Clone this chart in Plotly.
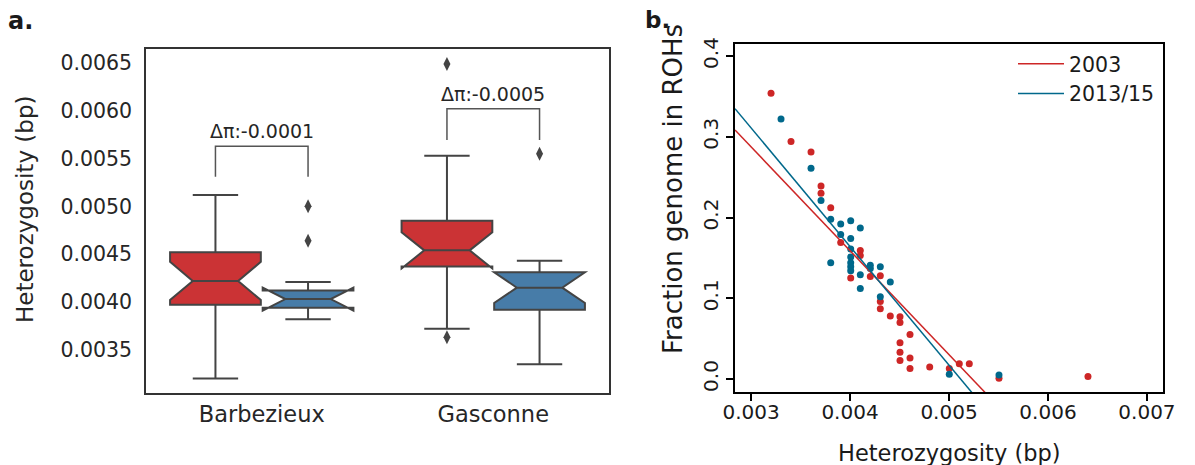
import plotly.graph_objects as go

# the page body adds an 8px margin, so the figure is drawn 8px smaller and shifted
OFF = 8
W, H = 1195 - OFF, 465 - OFF

# ---- panel a: heterozygosity per breed, 2003 vs 2013/15 (box stats)
breeds = ["Barbezieux", "Gasconne"]
q1_2003 = [0.00397, 0.00437]
med_2003 = [0.00422, 0.00454]
q3_2003 = [0.00452, 0.00485]
lo_2003 = [0.00320, 0.00372]
hi_2003 = [0.00512, 0.00553]
notch_2003 = [0.00020, 0.00019]
q1_2015 = [0.00394, 0.00392]
med_2015 = [0.00403, 0.00415]
q3_2015 = [0.00412, 0.00431]
lo_2015 = [0.00382, 0.00335]
hi_2015 = [0.00421, 0.00443]
notch_2015 = [0.00012, 0.00016]
# outliers: (breed index, value)
out_2003_idx = [1, 1]
out_2003_val = [0.00649, 0.00363]
out_2015_idx = [0, 0, 1]
out_2015_val = [0.00500, 0.00464, 0.00555]
# difference brackets
delta_labels = ["Δπ:-0.0001", "Δπ:-0.0005"]
bracket_top = [0.00563, 0.00602]
bracket_bottom = [0.00531, 0.005695]

# ---- panel b: fraction of genome in ROHs vs heterozygosity
het_2003 = [0.003202, 0.003404, 0.003606, 0.003707, 0.003707, 0.003805, 0.003906,
            0.004007, 0.004104, 0.004104, 0.004205, 0.004306, 0.004306, 0.004306,
            0.004407, 0.004505, 0.004505, 0.004505, 0.004505, 0.004505, 0.004606,
            0.004606, 0.004606, 0.004805, 0.005003, 0.005104, 0.005205, 0.005505,
            0.006404]
roh_2003 = [0.354, 0.294, 0.281, 0.239, 0.230, 0.212, 0.169,
            0.125, 0.159, 0.153, 0.127, 0.128, 0.096, 0.087,
            0.078, 0.077, 0.070, 0.045, 0.033, 0.023, 0.055,
            0.026, 0.013, 0.015, 0.013, 0.019, 0.019, 0.001,
            0.003]
het_2015 = [0.003303, 0.003606, 0.003707, 0.003805, 0.003805, 0.003906, 0.003906,
            0.004007, 0.004007, 0.004007, 0.004007, 0.004007, 0.004007, 0.004007,
            0.004104, 0.004104, 0.004104, 0.004205, 0.004205, 0.004306, 0.004306,
            0.004407, 0.005003, 0.005505]
roh_2015 = [0.322, 0.261, 0.221, 0.198, 0.144, 0.192, 0.179,
            0.196, 0.174, 0.161, 0.151, 0.144, 0.139, 0.134,
            0.187, 0.129, 0.112, 0.141, 0.137, 0.139, 0.102,
            0.120, 0.006, 0.005]
# linear fits (slope, intercept)
fit_2003 = [-128.7, 0.6737]
fit_2015 = [-146.9, 0.7517]

# ---- style
box_red, box_blue = "#CB3335", "#477CA8"
pt_red, pt_blue = "#CD2626", "#00688B"
box_line = "#444444"
dodge = [-0.2, 0.2]
xr_b = [0.002838, 0.007162]
font = "DejaVu Sans"


def px_x(p):
    return (p - OFF) / W


def px_y(p):
    return 1 - (p - OFF) / H


def label(x, y, text, size, color="#1a1a1a", angle=0, xanchor="center"):
    fig.add_annotation(x=px_x(x), y=px_y(y), xref="paper", yref="paper",
                       text=text, textangle=angle, showarrow=False,
                       xanchor=xanchor, yanchor="middle",
                       font=dict(size=size, color=color))


fig = go.Figure()

box_sets = [
    (q1_2003, med_2003, q3_2003, lo_2003, hi_2003, notch_2003, box_red, "2003"),
    (q1_2015, med_2015, q3_2015, lo_2015, hi_2015, notch_2015, box_blue, "2013/15"),
]
for q1, med, q3, lo, hi, nt, col, name in box_sets:
    fig.add_trace(go.Box(
        x=[0, 1], q1=q1, median=med, q3=q3, lowerfence=lo, upperfence=hi,
        notchspan=nt, notched=True, notchwidth=0.25, whiskerwidth=0.5,
        fillcolor=col, line=dict(color=box_line, width=2), boxpoints=False,
        name=name, offsetgroup=name, showlegend=False, hoverinfo="skip",
        xaxis="x", yaxis="y"))

for idx, val, k in [(out_2003_idx, out_2003_val, 0), (out_2015_idx, out_2015_val, 1)]:
    fig.add_trace(go.Scatter(
        x=[i + dodge[k] for i in idx], y=val, mode="markers",
        marker=dict(symbol="diamond-tall", size=10, color=box_line),
        showlegend=False, xaxis="x", yaxis="y"))

for i, lab in enumerate(delta_labels):
    fig.add_trace(go.Scatter(
        x=[i + dodge[0], i + dodge[0], i + dodge[1], i + dodge[1]],
        y=[bracket_bottom[i], bracket_top[i], bracket_top[i], bracket_bottom[i]],
        mode="lines", line=dict(color="#555555", width=1.5),
        showlegend=False, xaxis="x", yaxis="y"))
    fig.add_annotation(x=i, y=bracket_top[i], xref="x", yref="y", text=lab,
                       showarrow=False, xanchor="center", yanchor="bottom", yshift=2,
                       font=dict(size=19, color="#262626"))

# panel b points and fits
for hx, ry, col in [(het_2003, roh_2003, pt_red), (het_2015, roh_2015, pt_blue)]:
    fig.add_trace(go.Scatter(
        x=hx, y=ry, mode="markers", marker=dict(size=7, color=col),
        showlegend=False, xaxis="x2", yaxis="y2"))

for fit, col, name in [(fit_2003, pt_red, "2003"), (fit_2015, pt_blue, "2013/15")]:
    fig.add_trace(go.Scatter(
        x=xr_b, y=[fit[0] * v + fit[1] for v in xr_b], mode="lines",
        line=dict(color=col, width=1.5), name=name, xaxis="x2", yaxis="y2"))

fig.update_layout(
    width=W, height=H, margin=dict(l=0, r=0, t=0, b=0),
    paper_bgcolor="white", plot_bgcolor="white",
    font=dict(family=font, color="#262626"),
    boxmode="group", boxgap=0.2, boxgroupgap=0.02,
    xaxis=dict(domain=[px_x(146), px_x(609)], range=[-0.5, 1.5],
               tickvals=[0, 1], ticktext=breeds, tickfont=dict(size=22.5),
               showline=True, mirror=True, linecolor="#333333", linewidth=1.5,
               ticks="", showgrid=False, zeroline=False, automargin=False, anchor="y"),
    yaxis=dict(domain=[px_y(393), px_y(49)], range=[0.003048, 0.006646],
               tickvals=[0.0035, 0.004, 0.0045, 0.005, 0.0055, 0.006, 0.0065],
               tickformat=".4f", tickfont=dict(size=20.5),
               showline=True, mirror=True, linecolor="#333333", linewidth=1.5,
               ticks="outside", ticklen=8, tickcolor="rgba(0,0,0,0)",
               showgrid=False, zeroline=False, automargin=False, anchor="x"),
    xaxis2=dict(domain=[px_x(735), px_x(1163)], range=xr_b,
                tickvals=[0.003, 0.004, 0.005, 0.006, 0.007], tickformat=".3f",
                tickfont=dict(size=20, color="#1a1a1a"), ticklabelstandoff=-6,
                showline=True, mirror=True, linecolor="black", linewidth=1.5,
                ticks="outside", ticklen=7, tickwidth=1.5, tickcolor="black",
                showgrid=False, zeroline=False, automargin=False, anchor="y2"),
    yaxis2=dict(domain=[px_y(392), px_y(44)], range=[-0.0161, 0.4149],
                tickvals=[0, 0.1, 0.2, 0.3, 0.4], tickformat=".1f", tickangle=-90,
                tickfont=dict(size=20, color="#1a1a1a"),
                showline=True, mirror=True, linecolor="black", linewidth=1.5,
                ticks="outside", ticklen=7, tickwidth=1.5, tickcolor="black",
                showgrid=False, zeroline=False, automargin=False, anchor="x2"),
    legend=dict(x=px_x(1013), y=px_y(44), xanchor="left", yanchor="top",
                bgcolor="rgba(0,0,0,0)", font=dict(size=20.5, color="#1a1a1a"),
                itemwidth=46, tracegroupgap=0),
)

# axis titles and panel letters
label(25, 210, "Heterozygosity (bp)", 23, color="#262626", angle=-90)
label(673, 189, "Fraction genome in ROHs", 26, angle=-90)
label(949, 453, "Heterozygosity (bp)", 22.5)
label(6, 21, "<b>a.</b>", 24, xanchor="left")
label(643, 20, "<b>b.</b>", 23, xanchor="left")

fig.write_html("out.html")
